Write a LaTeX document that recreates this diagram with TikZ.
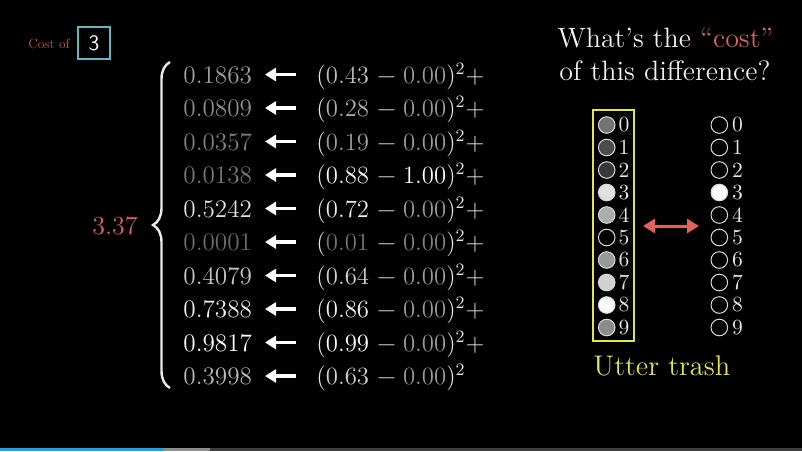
\documentclass[tikz,border=0pt]{standalone}
\usetikzlibrary{arrows.meta,decorations.pathreplacing}
\definecolor{costred}{HTML}{E0625A}
\definecolor{dimred}{HTML}{C0504A}
\definecolor{boxblue}{HTML}{63B5C9}
\definecolor{trashyellow}{HTML}{E6E640}
\definecolor{barblue}{HTML}{12A5E8}
\newcommand{\mnsgap}{\hspace{0.33em}−\hspace{0.28em}}
\tikzset{
  bignum/.style={inner sep=0pt, font=\fontsize{12.6}{14}\selectfont},
  eqn/.style={inner sep=0pt, font=\fontsize{12.4}{14}\selectfont, text=white!90!black},
  backarrow/.style={white, line width=1.6pt, -{Triangle[length=5.5pt,width=6.5pt]}},
  neuron/.style={circle, draw=white!85!black, line width=0.5pt, minimum size=8.3pt, inner sep=0pt},
  digitlbl/.style={inner sep=0pt, text=white!90!black, font=\fontsize{10.8}{12}\selectfont},
  titletext/.style={inner sep=0pt, text=white!95!black, font=\fontsize{14}{16}\selectfont},
}
\begin{document}
\begin{tikzpicture}[x=0.5pt,y=-0.5pt]
\fill[black] (0,0) rectangle (802,451);
\useasboundingbox (0,0) rectangle (802,451);

% Cost of 3
\node[anchor=base west, inner sep=0pt, text=dimred, font=\fontsize{10}{12}\selectfont, scale=0.66] (costof) at (28,48) {Cost of};
\draw[boxblue, line width=0.8pt] (78,27) rectangle (110,59);
\node[inner sep=0pt, text=white, font=\sffamily\fontsize{11}{12}\selectfont] (three) at (94,43) {3};

% rows
\foreach \i/\lv/\lg/\av/\ag/\tv/\tg/\suf in {
  0/0.1863/0.62/0.43/0.75/0.00/0.6/{+},
  1/0.0809/0.55/0.28/0.68/0.00/0.6/{+},
  2/0.0357/0.50/0.19/0.62/0.00/0.6/{+},
  3/0.0138/0.47/0.88/0.97/1.00/1.0/{+},
  4/0.5242/0.88/0.72/0.92/0.00/0.6/{+},
  5/0.0001/0.42/0.01/0.45/0.00/0.5/{+},
  6/0.4079/0.78/0.64/0.82/0.00/0.6/{+},
  7/0.7388/0.93/0.86/0.95/0.00/0.6/{+},
  8/0.9817/1.00/0.99/1.00/0.00/0.6/{+},
  9/0.3998/0.72/0.63/0.82/0.00/0.6/{}}{
  \pgfmathsetmacro{\yb}{83+33.5*\i}
  \pgfmathsetmacro{\yc}{74.5+33.5*\i}
  \node[bignum, anchor=base west, text={rgb,1:red,\lg;green,\lg;blue,\lg}] (num\i) at (183,\yb) {\lv};
  \node[eqn, anchor=base west] (eq\i) at (316,\yb)
    {(\textcolor[gray]{\ag}{\av}\mnsgap\textcolor[gray]{\tg}{\tv})\textsuperscript{2}\suf};
  \coordinate (as\i) at (296,\yc);
  \coordinate (ae\i) at (265,\yc);
  \draw[backarrow] (as\i) -- (ae\i);
}

% brace and total
\coordinate (brb) at (170,388);
\coordinate (brt) at (170,62);
\draw[white!92!black, line width=1.2pt, decorate, decoration={brace, amplitude=8.5pt}] (brb) -- (brt);
\node[inner sep=0pt, text=costred, font=\fontsize{13}{15}\selectfont] (total) at (115,226) {3.37};

% title
\node[titletext, anchor=base] (t1) at (665.5,47) {What's the \textcolor{costred}{``cost''}};
\node[titletext, anchor=base] (t2) at (665,80) {of this difference?};

% network output column
\draw[trashyellow, line width=0.8pt] (593,110) rectangle (634,341);
\foreach \k/\p in {0/45,1/30,2/22,3/88,4/68,5/0,6/60,7/82,8/98,9/55}{
  \pgfmathsetmacro{\cy}{125+22.5*\k}
  \node[neuron, fill=white!\p!black] (L\k) at (606.7,\cy) {};
  \node[digitlbl] (Ll\k) at (624,\cy) {\k};
}
% desired output column
\foreach \k/\p in {0/0,1/0,2/0,3/100,4/0,5/0,6/0,7/0,8/0,9/0}{
  \pgfmathsetmacro{\cy}{125+22.5*\k}
  \node[neuron, fill=white!\p!black] (R\k) at (719.3,\cy) {};
  \node[digitlbl] (Rl\k) at (737.5,\cy) {\k};
}

% double arrow
\coordinate (da) at (643,226);
\coordinate (db) at (699,226);
\draw[costred, line width=1.5pt, {Triangle[length=6pt,width=7pt]}-{Triangle[length=6pt,width=7pt]}] (da) -- (db);

\node[anchor=base west, inner sep=0pt, text=trashyellow, font=\fontsize{14.2}{16}\selectfont] (trash) at (593,375) {Utter trash};

% progress bar
\fill[barblue] (0,447.7) rectangle (163,450.5);
\fill[white!55!black] (163,447.7) rectangle (210,450.5);
\fill[white!25!black] (210,447.7) rectangle (802,450.5);
\end{tikzpicture}
\end{document}
